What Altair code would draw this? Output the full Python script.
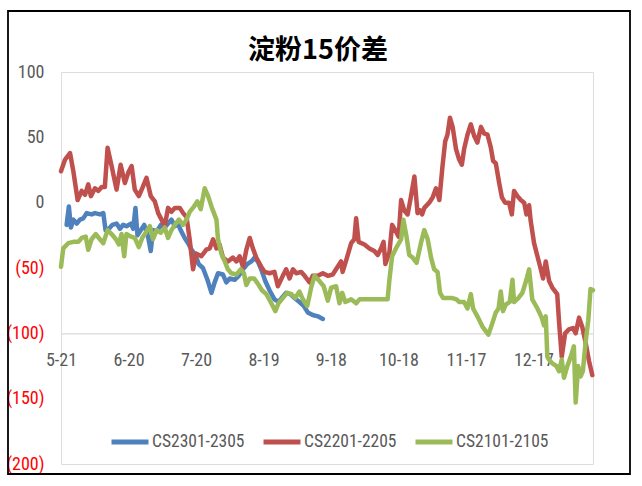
import altair as alt
import pandas as pd

# ---------------- data (days counted from 5-21) ----------------
series_names = ["CS2301-2305", "CS2201-2205", "CS2101-2105"]
series_colors = ["#4F81BD", "#C0504D", "#9BBB59"]

blue_day = [2.5, 3.5, 4.4, 5.5, 7.0, 8.4, 9.9, 11.4, 13.6, 15.1,
            17.3, 18.8, 19.8, 21.3, 22.8, 24.7, 26.2, 27.6, 29.1, 31.1,
            32.1, 33.1, 34.0, 35.5, 37.0, 38.7, 39.9, 40.9, 42.5, 44.4,
            46.1, 47.6, 49.1, 50.6, 52.0, 53.2, 55.0, 56.5, 58.0, 59.8,
            61.2, 63.1, 65.1, 66.9, 68.3, 69.8, 72.0, 73.5, 75.0, 77.2,
            79.0, 80.9, 82.8, 84.6, 86.1, 87.5, 89.0, 90.8, 92.7, 94.9,
            96.7, 98.6, 100.1, 102.0, 103.8, 106.0, 107.9, 109.7, 111.9, 114.2,
            116.4]
blue_val = [-17, -3, -19, -13, -16, -13, -12, -8, -9, -8,
            -9, -8, -21, -20, -17, -16, -20, -17, -18, -16,
            -20, -4, -25, -21, -17, -26, -37, -21, -22, -17,
            -19, -16, -13, -18, -16, -21, -27, -31, -36, -40,
            -47, -50, -59, -69, -61, -54, -55, -61, -58, -59,
            -56, -51, -47, -45, -42, -45, -51, -60, -67, -74,
            -76, -72, -69, -70, -73, -76, -79, -84, -86, -87,
            -89]

red_day = [0.0, 1.8, 4.0, 5.5, 7.4, 9.2, 10.7, 12.1, 13.3, 15.1,
           16.6, 18.1, 19.5, 20.7, 22.5, 24.7, 26.5, 28.4, 29.9, 31.4,
           32.8, 34.6, 36.1, 38.0, 39.9, 41.7, 43.2, 44.7, 46.1, 47.6,
           49.1, 50.6, 52.8, 54.3, 55.8, 57.2, 58.7, 60.2, 62.4, 64.6,
           66.1, 67.6, 69.1, 70.5, 72.0, 74.2, 76.4, 78.0, 79.4, 80.9,
           82.4, 83.9, 85.3, 86.8, 89.0, 90.5, 92.7, 94.9, 96.4, 98.6,
           100.1, 101.6, 103.1, 104.6, 106.8, 108.3, 110.5, 111.9, 114.2, 116.4,
           118.6, 120.8, 123.0, 124.5, 125.2, 126.8, 129.0, 130.4, 131.2, 132.3,
           134.9, 137.1, 139.3, 140.8, 142.3, 143.4, 144.2, 146.0, 147.2, 148.6,
           150.1, 151.2, 152.6, 154.1, 155.6, 157.1, 158.5, 159.7, 160.5, 161.5,
           163.7, 165.2, 166.7, 168.2, 169.6, 170.8, 171.8, 172.9, 174.1, 175.6,
           177.0, 178.2, 179.2, 180.7, 182.2, 183.7, 185.1, 186.7, 188.1, 189.6,
           191.1, 192.1, 193.3, 194.8, 196.0, 197.4, 199.2, 200.4, 201.4, 202.9,
           204.4, 205.9, 206.9, 208.1, 208.8, 210.3, 211.8, 213.3, 214.3, 215.5,
           217.0, 218.4, 220.6, 221.4, 222.6, 224.1, 225.8, 227.6, 228.8, 230.3,
           231.7, 233.2, 234.7, 236.2]
red_val = [24, 33, 38, 24, 2, 9, 6, 14, 5, 11,
           9, 12, 12, 42, 28, 10, 29, 15, 23, 28,
           10, 5, 11, 19, 5, 1, -8, -13, -18, -4,
           -7, -4, -4, -8, -11, -28, -51, -39, -41, -36,
           -35, -28, -35, -32, -42, -45, -42, -45, -41, -49,
           -36, -27, -35, -42, -49, -53, -54, -53, -64, -56,
           -51, -58, -51, -54, -53, -56, -61, -56, -56, -54,
           -56, -55, -49, -45, -53, -44, -31, -28, -12, -30,
           -32, -35, -37, -40, -35, -30, -47, -38, -17, -21,
           -26, 2, -6, -9, 5, 20, -8, -6, -9, -4,
           0, 4, 11, 2, 28, 47, 52, 65, 58, 41,
           33, 29, 41, 52, 60, 51, 46, 58, 53, 52,
           42, 32, 30, 15, 4, 0, 0, -9, 9, 5,
           2, 0, -9, -2, -14, -31, -41, -51, -58, -45,
           -60, -65, -70, -91, -118, -100, -97, -96, -100, -88,
           -95, -107, -121, -132]

green_day = [0.0, 1.0, 3.2, 5.5, 7.7, 9.2, 11.0, 12.1, 13.6, 15.4,
             17.3, 18.8, 20.7, 22.5, 24.4, 25.7, 26.9, 28.1, 29.1, 31.1,
             32.8, 34.6, 36.1, 38.0, 39.5, 40.9, 42.5, 44.4, 46.1, 47.6,
             49.1, 50.6, 52.4, 54.3, 55.8, 57.2, 59.1, 60.6, 62.1, 63.9,
             65.4, 67.1, 69.1, 69.8, 71.3, 72.8, 74.2, 75.7, 78.0, 79.9,
             81.3, 82.4, 83.9, 85.8, 87.5, 89.3, 91.3, 93.2, 95.3, 96.7,
             98.6, 100.6, 102.4, 104.1, 106.0, 107.5, 109.5, 111.2, 112.7, 114.9,
             116.8, 118.6, 120.1, 122.3, 123.8, 125.0, 126.4, 129.0, 131.2, 132.7,
             137.1, 141.5, 143.7, 145.2, 146.0, 147.2, 148.9, 151.2, 152.2, 153.6,
             154.8, 156.3, 158.1, 160.0, 161.5, 163.0, 164.5, 165.9, 167.4, 168.5,
             169.9, 171.8, 174.0, 175.8, 177.0, 179.2, 180.7, 182.2, 183.2, 185.1,
             187.4, 190.0, 191.8, 193.3, 194.5, 195.5, 196.5, 197.7, 199.5, 200.7,
             201.4, 203.3, 205.1, 206.9, 208.1, 209.5, 211.8, 213.7, 214.7, 215.5,
             216.2, 216.9, 218.4, 220.2, 221.4, 222.6, 223.6, 225.1, 226.6, 228.0,
             228.8, 229.9, 231.0, 232.0, 233.2, 234.4, 235.4, 236.5]
green_val = [-49, -35, -31, -30, -30, -27, -26, -36, -28, -24,
             -28, -31, -21, -24, -28, -32, -24, -41, -24, -26,
             -27, -34, -27, -22, -18, -28, -21, -23, -19, -27,
             -21, -17, -13, -17, -13, -7, -3, 1, -5, 11,
             5, -4, -13, -28, -39, -45, -51, -54, -55, -51,
             -54, -63, -58, -58, -62, -67, -70, -76, -83, -77,
             -73, -69, -70, -73, -68, -74, -79, -65, -56, -60,
             -64, -75, -65, -64, -77, -69, -76, -74, -77, -74,
             -74, -74, -74, -74, -59, -41, -35, -28, -13, -26,
             -40, -42, -46, -31, -21, -28, -42, -51, -53, -69,
             -73, -73, -73, -74, -76, -76, -81, -70, -81, -87,
             -95, -101, -92, -84, -81, -68, -83, -78, -76, -59,
             -76, -73, -69, -59, -51, -74, -81, -88, -94, -87,
             -118, -120, -123, -125, -129, -120, -134, -125, -118, -110,
             -153, -125, -133, -129, -107, -90, -66, -67]

y_ticks = [100, 50, 0, -50, -100, -150, -200]
x_tick_dates = [(2022, 5, 21), (2022, 6, 20), (2022, 7, 20), (2022, 8, 19),
                (2022, 9, 18), (2022, 10, 18), (2022, 11, 17), (2022, 12, 17)]
title_text = "淀粉15价差"

# ---------------- build ----------------
start = pd.Timestamp("2022-05-21")


def frame(name, days, vals):
    return pd.DataFrame({
        "date": [start + pd.Timedelta(days=d) for d in days],
        "value": vals,
        "series": name,
    })


FONT = "Liberation Sans Narrow, Roboto Condensed, DejaVu Sans Condensed, sans-serif"
W, H = 532, 392

x_scale = alt.Scale(domain=[alt.DateTime(year=2022, month=5, date=21),
                            alt.DateTime(year=2023, month=1, date=12, hours=12)])
y_scale = alt.Scale(domain=[-200, 100], nice=False, zero=False)
color_scale = alt.Scale(domain=series_names, range=series_colors)

x_axis = alt.Axis(
    values=[alt.DateTime(year=y, month=m, date=d) for (y, m, d) in x_tick_dates],
    format="%-m-%-d", offset=-H / 3, domainColor="#D9D9D9", domainWidth=1.3,
    ticks=False, grid=False, labelFontSize=18, labelFont=FONT,
    labelColor="#595959", labelPadding=18, title=None,
    labelFlush=False, labelOverlap=False,
)
y_axis = alt.Axis(
    values=y_ticks,
    labelExpr="datum.value < 0 ? '(' + format(-datum.value, 'd') + ')' : format(datum.value, 'd') + '\u2009'",
    labelColor=alt.condition("datum.value < 0", alt.value("#FF0000"), alt.value("#595959")),
    domain=False, ticks=False, grid=False, labelFontSize=18, labelFont=FONT,
    labelPadding=17, title=None,
)
legend = alt.Legend(
    orient="none", legendX=48, legendY=349, direction="horizontal", title=None,
    symbolType="stroke", symbolSize=1369, symbolStrokeWidth=5,
    labelFontSize=17.5, labelFont=FONT, labelColor="#595959",
    columnPadding=8, labelOffset=1, columns=3,
)


def line_layer(df):
    return alt.Chart(df).mark_line(strokeWidth=4.5, strokeCap="round", strokeJoin="round").encode(
        x=alt.X("date:T", scale=x_scale, axis=x_axis),
        y=alt.Y("value:Q", scale=y_scale, axis=y_axis),
        color=alt.Color("series:N", scale=color_scale, legend=legend),
    )


blue = line_layer(frame(series_names[0], blue_day, blue_val))
red = line_layer(frame(series_names[1], red_day, red_val))
green = line_layer(frame(series_names[2], green_day, green_val))

border = alt.Chart(pd.DataFrame({"k": [0]})).mark_rect(
    filled=False, stroke="#000000", strokeWidth=1.8
).encode(x=alt.value(-53), x2=alt.value(569), y=alt.value(-61), y2=alt.value(402))

chart = alt.layer(border, blue, red, green).properties(
    width=W, height=H,
    title=alt.TitleParams(title_text, anchor="middle", fontSize=27,
                          font="Noto Sans CJK SC", fontWeight="bold", color="#000000",
                          baseline="middle", offset=-68, dx=-9),
    autosize=alt.AutoSizeParams(type="none"),
    padding={"left": 61, "top": 72, "right": 49, "bottom": 22},
).configure_view(stroke=None).configure(background="#FFFFFF")

chart.save("out.html", embed_options={"renderer": "svg", "actions": False})
